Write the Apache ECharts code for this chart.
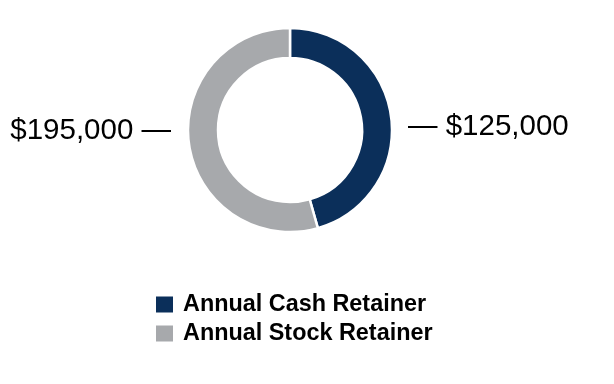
<!DOCTYPE html>
<html><head><meta charset="utf-8">
<script src="https://cdn.jsdelivr.net/npm/echarts@6/dist/echarts.min.js"></script>
<style>html,body{margin:0;padding:0;background:#fff}#c{width:614px;height:384px}</style>
</head><body><div id="c"></div>
<script>
const categories = ['Annual Cash Retainer', 'Annual Stock Retainer'];
const labelValues = [125000, 195000];
// slice shares as drawn in the reference picture (percent of the ring)
const sliceShares = [45.6, 54.4];
const colors = ['#0b2f5a', '#a7a9ac'];

const chart = echarts.init(document.getElementById('c'));
const fmt = v => '$' + v.toLocaleString('en-US');
chart.setOption({
  animation: false,
  color: colors,
  legend: {
    orient: 'vertical', left: 149, top: 288,
    itemWidth: 19, itemHeight: 18, itemGap: 6, icon: 'rect',
    data: categories,
    textStyle: { fontFamily: 'Liberation Sans, Arial', fontWeight: 'bold', fontSize: 23.4, color: '#000', padding: [0, 0, 0, 4] }
  },
  series: [{
    type: 'pie',
    center: [290, 130],
    radius: [72, 102],
    startAngle: 90,
    clockwise: true,
    itemStyle: { borderColor: '#fff', borderWidth: 2.5 },
    label: {
      show: true,
      fontFamily: 'Liberation Sans, Arial',
      fontSize: 29.5,
      color: '#000',
      overflow: 'none',
      width: 300,
      formatter: p => p.dataIndex === 0 ? '— ' + fmt(labelValues[0]) : fmt(labelValues[1]) + ' —'
    },
    labelLine: { show: false },
    labelLayout: p => p.dataIndex === 0
      ? { x: 408, y: 127, align: 'left', verticalAlign: 'middle' }
      : { x: 171, y: 131, align: 'right', verticalAlign: 'middle' },
    emphasis: { disabled: true },
    data: categories.map((n, i) => ({ name: n, value: sliceShares[i] }))
  }]
});
</script></body></html>
